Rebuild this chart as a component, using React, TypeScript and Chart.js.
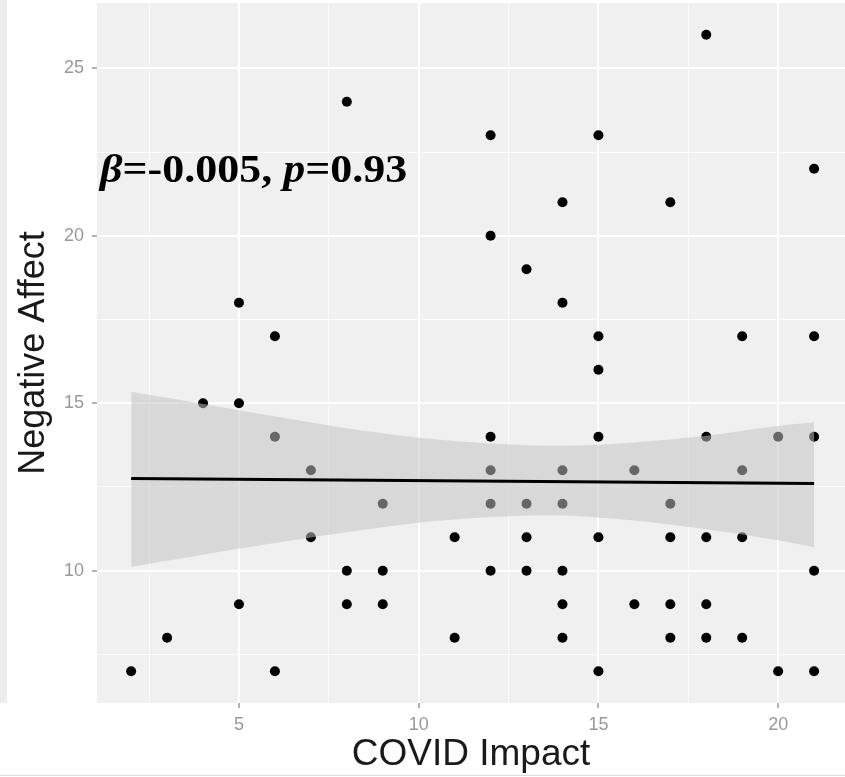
import React, { useEffect, useRef } from 'react';
import { Chart, registerables } from 'chart.js';

Chart.register(...registerables);

// ---- data ----
const covidImpact = [
  2, 3, 4, 5, 5, 5, 6, 6, 6, 7, 7, 8, 8, 8, 9, 9, 9, 11, 11,
  12, 12, 12, 12, 12, 12, 13, 13, 13, 13,
  14, 14, 14, 14, 14, 14, 14,
  15, 15, 15, 15, 15, 15, 16, 16,
  17, 17, 17, 17, 17, 18, 18, 18, 18, 18,
  19, 19, 19, 19, 20, 20, 21, 21, 21, 21, 21,
];
const negativeAffect = [
  7, 8, 15, 18, 15, 9, 17, 14, 7, 13, 11, 24, 10, 9, 12, 10, 9, 11, 8,
  23, 20, 14, 13, 12, 10, 19, 12, 11, 10,
  21, 18, 13, 12, 10, 9, 8,
  23, 17, 16, 14, 11, 7, 13, 9,
  21, 12, 11, 9, 8, 26, 14, 11, 9, 8,
  17, 13, 11, 8, 14, 7, 22, 17, 14, 10, 7,
];

const fitX = [2, 21];
const fitY = [12.75, 12.6];

const bandX = [2, 4, 6, 8, 10, 12, 14, 16, 18, 20, 21];
const bandUpper = [15.34, 14.98, 14.61, 14.25, 13.97, 13.8, 13.73, 13.83, 14.03, 14.32, 14.43];
const bandLower = [10.12, 10.48, 10.83, 11.15, 11.43, 11.6, 11.65, 11.5, 11.24, 10.91, 10.7];

const xTickLabels = ['5', '10', '15', '20'];
const yTickLabels = ['10', '15', '20', '25'];

const xTitle = 'COVID Impact';
const yTitle = 'Negative Affect';

const annoParts = [
  { text: 'β', italic: true },
  { text: '=-0.005, ', italic: false },
  { text: 'p', italic: true },
  { text: '=0.93', italic: false },
];
const annoX = 1.13;
const annoY = 21.6;

const PANEL = '#F0F0F0';
const TICK_GREY = '#999999';

const panelPlugin = {
  id: 'panelPlugin',
  beforeDraw(chart: any) {
    const { ctx, chartArea: a } = chart;
    ctx.save();
    ctx.fillStyle = '#ffffff';
    ctx.fillRect(0, 0, chart.width, chart.height);
    ctx.fillStyle = PANEL;
    ctx.fillRect(a.left, a.top, a.right - a.left, a.bottom - a.top);
    // cropped neighbour strip on the far left
    ctx.fillStyle = '#EDEDED';
    ctx.fillRect(0, 0, 7, a.bottom);
    // thin frame line at the bottom of the picture
    ctx.fillStyle = '#dddddd';
    ctx.fillRect(0, chart.height - 2, chart.width, 1);
    ctx.restore();
  },
  afterDatasetsDraw(chart: any) {
    const { ctx } = chart;
    const x0 = chart.scales.x.getPixelForValue(annoX);
    const y0 = chart.scales.y.getPixelForValue(annoY);
    ctx.save();
    ctx.translate(x0, y0);
    ctx.scale(1.1, 1);
    ctx.fillStyle = '#000000';
    ctx.textBaseline = 'alphabetic';
    ctx.textAlign = 'left';
    let x = 0;
    for (const part of annoParts) {
      ctx.font = `${part.italic ? 'italic ' : ''}bold 40px "Liberation Serif", "Times New Roman", serif`;
      ctx.fillText(part.text, x, 0);
      x += ctx.measureText(part.text).width;
    }
    ctx.restore();
  },
};

const isMajor = (v: number) => Math.abs(v % 5) < 1e-9;

export default function App() {
  const canvasRef = useRef<HTMLCanvasElement | null>(null);

  useEffect(() => {
    if (!canvasRef.current) return;
    const points = covidImpact.map((x, i) => ({ x, y: negativeAffect[i] }));
    const upper = bandX.map((x, i) => ({ x, y: bandUpper[i] }));
    const lower = bandX.map((x, i) => ({ x, y: bandLower[i] }));
    const fit = fitX.map((x, i) => ({ x, y: fitY[i] }));

    const gridCommon = {
      color: (ctx: any) => (ctx.tick && isMajor(ctx.tick.value) ? '#ffffff' : 'rgba(255,255,255,0.75)'),
      lineWidth: (ctx: any) => (ctx.tick && isMajor(ctx.tick.value) ? 2 : 1),
      drawTicks: true,
      tickLength: 5,
      tickWidth: 1.5,
      tickColor: (ctx: any) => (ctx.tick && isMajor(ctx.tick.value) ? TICK_GREY : 'rgba(0,0,0,0)'),
    };

    const chart = new Chart(canvasRef.current, {
      type: 'scatter',
      data: {
        datasets: [
          {
            label: 'points',
            data: points,
            pointRadius: 5,
            pointBackgroundColor: '#000000',
            pointBorderWidth: 0,
            order: 3,
          },
          {
            label: 'upper',
            data: upper,
            showLine: true,
            pointRadius: 0,
            borderWidth: 0,
            borderColor: 'rgba(0,0,0,0)',
            tension: 0.3,
            fill: false,
            order: 2,
          },
          {
            label: 'lower',
            data: lower,
            showLine: true,
            pointRadius: 0,
            borderWidth: 0,
            borderColor: 'rgba(0,0,0,0)',
            backgroundColor: 'rgba(194,194,194,0.53)',
            tension: 0.3,
            fill: '-1',
            order: 1,
          },
          {
            label: 'fit',
            data: fit,
            showLine: true,
            pointRadius: 0,
            borderColor: '#000000',
            borderWidth: 3,
            order: 0,
          },
        ],
      } as any,
      options: {
        animation: false,
        responsive: false,
        maintainAspectRatio: false,
        layout: { autoPadding: false, padding: { top: 3, left: 0, right: 0, bottom: 0 } },
        plugins: {
          legend: { display: false },
          tooltip: { enabled: false },
        },
        scales: {
          x: {
            type: 'linear',
            min: 1.05,
            max: 21.86,
            border: { display: false },
            grid: gridCommon as any,
            ticks: {
              stepSize: 2.5,
              includeBounds: false,
              autoSkip: false,
              maxRotation: 0,
              padding: 6,
              color: TICK_GREY,
              font: { family: '"Liberation Sans", Arial, sans-serif', size: 18 },
              callback: (v: any) => (xTickLabels.includes(String(v)) ? String(v) : ''),
            },
            title: {
              display: true,
              text: xTitle,
              color: '#1a1a1a',
              font: { family: '"Liberation Sans", Arial, sans-serif', size: 37 },
              padding: { top: 0, bottom: 0 },
            },
            afterFit: (scale: any) => {
              scale.height = 74;
              scale.paddingLeft = 0;
              scale.paddingRight = 0;
            },
          },
          y: {
            type: 'linear',
            min: 6.05,
            max: 26.95,
            border: { display: false },
            grid: gridCommon as any,
            ticks: {
              stepSize: 2.5,
              includeBounds: false,
              autoSkip: false,
              padding: 8,
              color: TICK_GREY,
              font: { family: '"Liberation Sans", Arial, sans-serif', size: 18 },
              callback: (v: any) => (yTickLabels.includes(String(v)) ? String(v) : ''),
            },
            title: {
              display: true,
              text: yTitle,
              color: '#1a1a1a',
              font: { family: '"Liberation Sans", Arial, sans-serif', size: 36 },
              padding: { top: 12, bottom: 0 },
            },
            afterFit: (scale: any) => {
              scale.width = 97;
              scale.paddingTop = 0;
              scale.paddingBottom = 0;
            },
          },
        },
      } as any,
      plugins: [panelPlugin],
    });

    return () => chart.destroy();
  }, []);

  return (
    <div style={{ position: 'absolute', left: 0, top: 0, width: 845, height: 777, overflow: 'hidden' }}>
      <canvas ref={canvasRef} width={845} height={777} style={{ display: 'block' }} />
    </div>
  );
}
